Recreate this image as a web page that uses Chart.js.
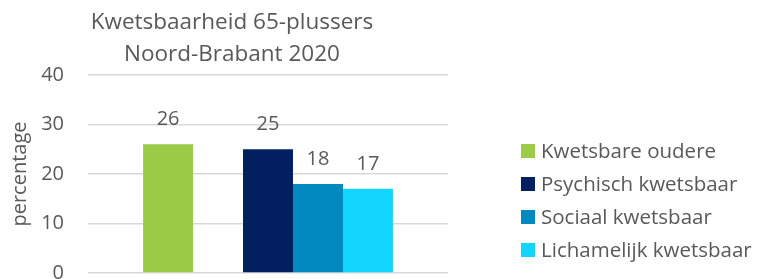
<!DOCTYPE html>
<html>
<head>
<meta charset="utf-8">
<script src="https://cdn.jsdelivr.net/npm/chart.js@4"></script>
<style>
    html, body { margin: 0; padding: 0; background: #ffffff; }
    #wrap { width: 758px; height: 279px; }
</style>
</head>
<body>
<div id="wrap"><canvas id="chart"></canvas></div>
<script>
// ===== DATA =====
const categories = ["Noord-Brabant 2020"];
// second slot is an empty spacer series (gap between the bars)
const seriesLabels = ["Kwetsbare oudere", "", "Psychisch kwetsbaar", "Sociaal kwetsbaar", "Lichamelijk kwetsbaar"];
const seriesValues = [26, null, 25, 18, 17];
const seriesColors = ["#9BCB47", "rgba(0,0,0,0)", "#022060", "#0289C0", "#12D5FE"];
const yTicks = [0, 10, 20, 30, 40];
const titleLines = ["Kwetsbaarheid 65-plussers", "Noord-Brabant 2020"];

const FONT = "Open Sans";
const TEXT = "#595959";

// ===== PLUGINS =====
const titlePlugin = {
    id: "twoLineTitle",
    afterDraw(chart) {
        const ctx = chart.ctx;
        const a = chart.chartArea;
        ctx.save();
        ctx.font = "22.5px " + FONT;
        ctx.fillStyle = TEXT;
        ctx.textAlign = "center";
        ctx.textBaseline = "middle";
        ctx.fillText(titleLines[0], a.left + 144, 23);
        ctx.fillText(titleLines[1], a.left + 144, 55);
        ctx.restore();
    }
};

const valueLabels = {
    id: "valueLabels",
    afterDatasetsDraw(chart) {
        const ctx = chart.ctx;
        ctx.save();
        ctx.font = "20px " + FONT;
        ctx.fillStyle = TEXT;
        ctx.textAlign = "center";
        ctx.textBaseline = "middle";
        chart.data.datasets.forEach((ds, i) => {
            chart.getDatasetMeta(i).data.forEach((bar, j) => {
                const v = ds.data[j];
                if (v === null || v === undefined) return;
                ctx.fillText(String(v), bar.x, bar.y - 25);
            });
        });
        ctx.restore();
    }
};

const legendPlugin = {
    id: "sideLegend",
    afterDraw(chart) {
        const ctx = chart.ctx;
        const a = chart.chartArea;
        const x = a.right + 73;
        let y = 151;
        ctx.save();
        ctx.font = "20.5px " + FONT;
        ctx.textBaseline = "middle";
        chart.data.datasets.forEach(ds => {
            if (!ds.label) return;
            ctx.fillStyle = ds.backgroundColor;
            ctx.fillRect(x, y - 7, 14, 14);
            ctx.fillStyle = TEXT;
            ctx.fillText(ds.label, x + 20, y + 1);
            y += 33;
        });
        ctx.restore();
    }
};

// ===== CHART =====
new Chart(document.getElementById("chart"), {
    type: "bar",
    data: {
        labels: categories,
        datasets: seriesLabels.map((label, i) => ({
            label: label,
            data: [seriesValues[i]],
            backgroundColor: seriesColors[i],
            borderWidth: 0
        }))
    },
    options: {
        responsive: true,
        maintainAspectRatio: false,
        animation: false,
        layout: { padding: { left: 8, top: 75, right: 310, bottom: 6 } },
        datasets: { bar: { barPercentage: 1, categoryPercentage: 0.694 } },
        plugins: {
            legend: { display: false },
            tooltip: { enabled: false }
        },
        scales: {
            x: { display: false },
            y: {
                min: yTicks[0],
                max: yTicks[yTicks.length - 1],
                afterBuildTicks: axis => { axis.ticks = yTicks.map(v => ({ value: v })); },
                afterFit: axis => {
                    axis.width = 80;
                    axis.paddingTop = 0;
                    axis.paddingBottom = 0;
                },
                border: { display: false },
                grid: { color: "#D9D9D9", lineWidth: 1.5, drawTicks: false },
                ticks: {
                    padding: 24,
                    color: TEXT,
                    font: { family: FONT, size: 20 }
                },
                title: {
                    display: true,
                    text: "percentage",
                    color: TEXT,
                    font: { family: FONT, size: 20 },
                    padding: { top: 0, bottom: 8 }
                }
            }
        }
    },
    plugins: [titlePlugin, valueLabels, legendPlugin]
});
</script>
</body>
</html>
